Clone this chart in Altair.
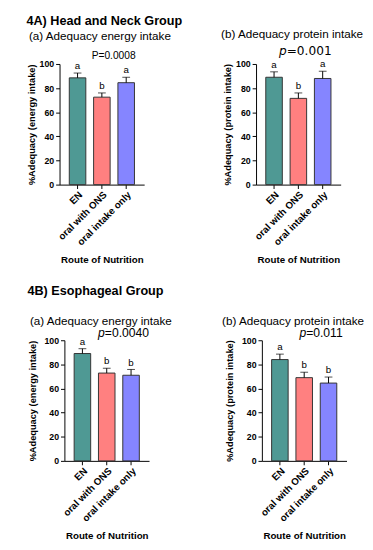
import altair as alt
import pandas as pd

categories = ["EN", "oral with ONS", "oral intake only"]
colors = ["#4f9994", "#ff8080", "#8585ff"]

A_energy_mean = [88.5, 72.5, 84.5]
A_energy_upper = [92.5, 76.0, 89.0]
A_energy_letters = ["a", "b", "a"]

A_protein_mean = [89.0, 71.5, 88.0]
A_protein_upper = [93.5, 76.0, 94.0]
A_protein_letters = ["a", "b", "a"]

B_energy_mean = [89.0, 72.8, 71.0]
B_energy_upper = [93.0, 76.8, 75.8]
B_energy_letters = ["a", "b", "b"]

B_protein_mean = [84.0, 69.0, 64.5]
B_protein_upper = [88.5, 73.5, 69.5]
B_protein_letters = ["a", "b", "b"]

y_ticks = [0, 20, 40, 60, 80, 100]

FONT = "Liberation Sans"


def panel(means, uppers, letters, title, p_italic, p_rest, ytitle,
          p_dx, p_y, p_size, title_dx, title_offset, ytitle_pad, shift=0, p_font=FONT):
    df = pd.DataFrame({"route": categories, "mean": means, "upper": uppers, "letter": letters})
    width = 87 + shift
    if shift:
        xscale = alt.Scale(paddingInner=0.32, paddingOuter=0.4, range=[shift, width])
    else:
        xscale = alt.Scale(paddingInner=0.32, paddingOuter=0.4)
    xaxis = alt.Axis(labelAngle=-45, labelFontSize=10, labelFontWeight="bold",
                     labelColor="black", titleFontSize=10, titleFontWeight="bold",
                     titleColor="black", titlePadding=8, domainColor="black",
                     tickColor="black", tickSize=4, labelPadding=1)
    yscale = alt.Scale(domain=[0, 100], nice=False)
    yaxis = alt.Axis(values=y_ticks, grid=False, labelFontSize=9,
                     labelFontWeight="bold", labelColor="black", labelOverlap=False,
                     titleFontSize=9.5, titleFontWeight="bold", titleColor="black",
                     titlePadding=ytitle_pad, labelPadding=2, offset=-shift,
                     domainColor="black", tickColor="black", tickSize=4)
    xs = alt.X("route:N", sort=categories, title="Route of Nutrition", scale=xscale, axis=xaxis)

    def ys(field):
        return alt.Y(field, title=ytitle, scale=yscale, axis=yaxis)

    base = alt.Chart(df)
    bars = base.mark_bar(stroke="#333333", strokeWidth=1).encode(
        x=xs, y=ys("mean:Q"),
        color=alt.Color("route:N", sort=categories,
                        scale=alt.Scale(domain=categories, range=colors), legend=None))
    rule = base.mark_rule(color="black", strokeWidth=1).encode(
        x=xs, y=ys("mean:Q"), y2="upper:Q")
    cap = base.mark_tick(color="black", thickness=1, size=8).encode(x=xs, y=ys("upper:Q"))
    lab = base.mark_text(baseline="bottom", dy=-2, fontSize=10, font=FONT, color="black").encode(
        x=xs, y=ys("upper:Q"), text="letter:N")
    layers = [bars, rule, cap, lab]
    pdf = pd.DataFrame({"route": [categories[1]], "p1": [p_italic], "p2": [p_rest]})
    if p_italic:
        pi = alt.Chart(pdf).mark_text(align="right", baseline="alphabetic", fontSize=p_size,
                                      fontStyle="italic", font=p_font, color="black",
                                      dx=p_dx).encode(
            text="p1:N", x=xs, y=alt.value(p_y))
        layers.append(pi)
    pr = alt.Chart(pdf).mark_text(align="left", baseline="alphabetic", fontSize=p_size,
                                  font=p_font, color="black", dx=p_dx).encode(
        text="p2:N", x=xs, y=alt.value(p_y))
    layers.append(pr)
    return alt.layer(*layers).properties(
        width=width, height=124,
        title=alt.TitleParams(title, fontSize=12, fontWeight="normal", font=FONT,
                              color="black", offset=title_offset, anchor="middle", dx=title_dx))


rowA = alt.hconcat(
    panel(A_energy_mean, A_energy_upper, A_energy_letters, "(a) Adequacy energy intake",
          "", "P=0.0008", "%Adequacy (energy intake)",
          p_dx=-10.5, p_y=-5, p_size=10.5, title_dx=-2, title_offset=9, ytitle_pad=3),
    panel(A_protein_mean, A_protein_upper, A_protein_letters, "(b) Adequacy protein intake",
          "p", "=0.001", "%Adequacy (protein intake)",
          p_dx=-12, p_y=-9, p_size=12.5, title_dx=-6.5, title_offset=5, ytitle_pad=3,
          p_font="DejaVu Sans"),
    spacing=50,
).properties(title=alt.TitleParams("4A) Head and Neck Group", fontSize=13, fontWeight="bold",
                                   font=FONT, color="black", anchor="start", offset=0))

rowB = alt.hconcat(
    panel(B_energy_mean, B_energy_upper, B_energy_letters, "(a) Adequacy energy intake",
          "p", "=0.0040", "%Adequacy (energy intake)",
          p_dx=-2, p_y=-3, p_size=12.5, title_dx=-3.5, title_offset=0, ytitle_pad=7,
          shift=5),
    panel(B_protein_mean, B_protein_upper, B_protein_letters, "(b) Adequacy protein intake",
          "p", "=0.011", "%Adequacy (protein intake)",
          p_dx=2, p_y=-3, p_size=12.5, title_dx=-8.5, title_offset=0, ytitle_pad=7,
          shift=6),
    spacing=50,
).properties(title=alt.TitleParams("4B) Esophageal Group", fontSize=13, fontWeight="bold",
                                   font=FONT, color="black", anchor="start", offset=18))

chart = alt.vconcat(rowA, rowB, spacing=21).properties(
    padding={"left": 18, "top": 0, "right": 0, "bottom": 0}).configure(
    font=FONT).configure_view(stroke=None).configure_axisY(labelOverlap=False)

chart.save("out.html", embed_options={"renderer": "svg", "actions": False})
